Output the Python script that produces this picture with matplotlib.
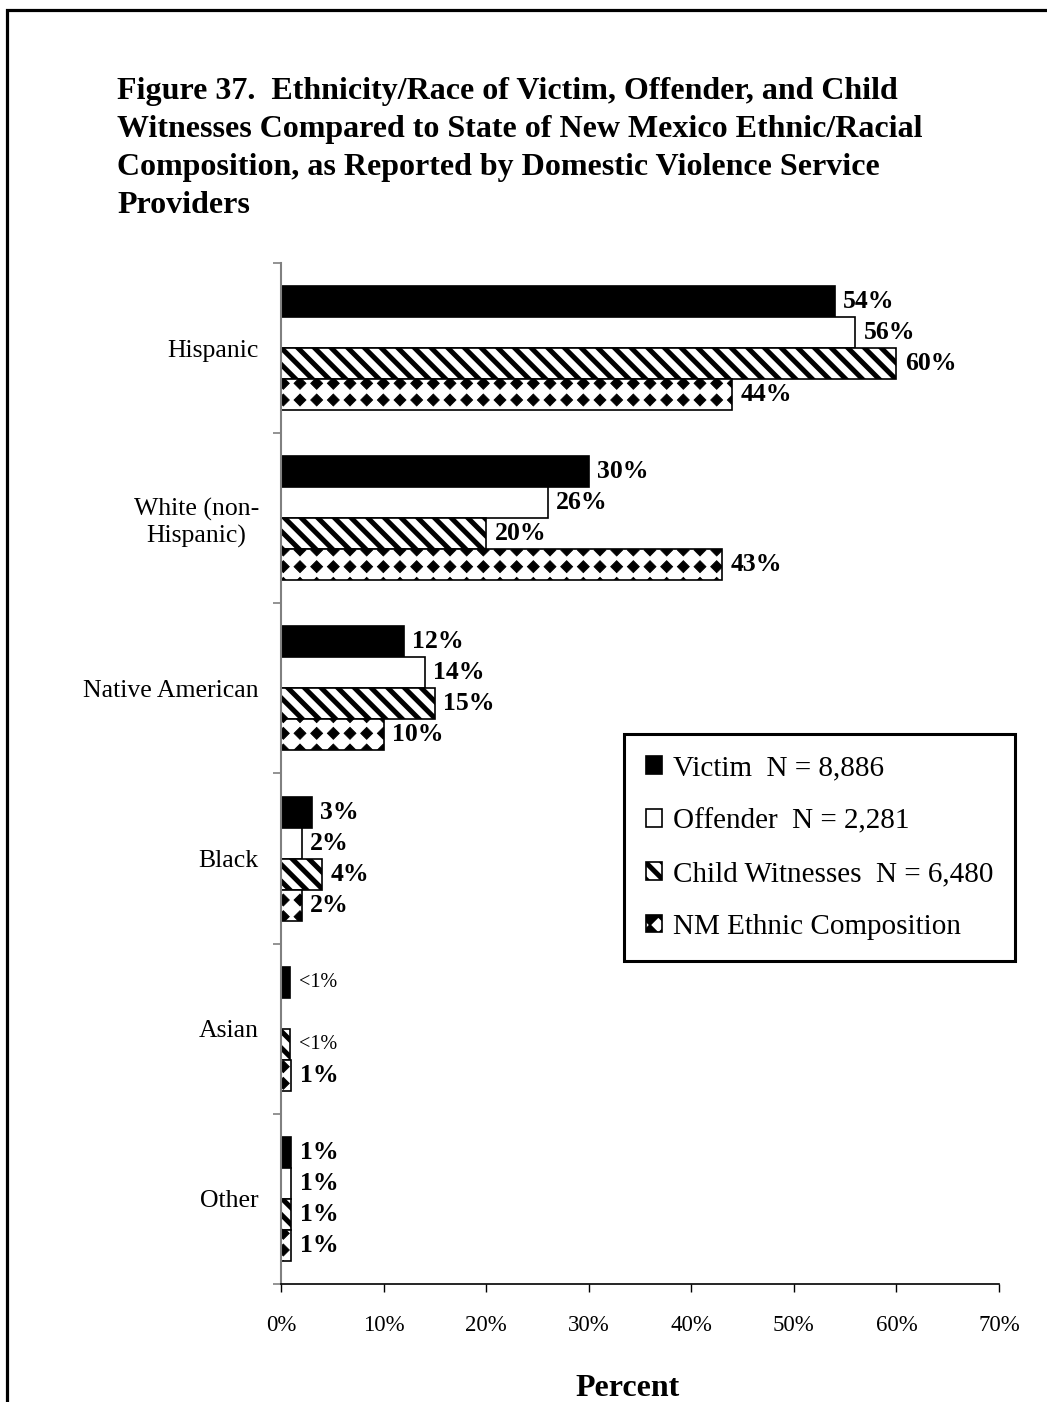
import warnings
import numpy as np
import matplotlib
matplotlib.use('Agg')
import matplotlib.pyplot as plt
import matplotlib.patches as mpatches
from matplotlib import hatch as mhatch
from matplotlib.path import Path

warnings.filterwarnings('ignore')

# data (percent)
categories = ['Hispanic', 'White (non-\nHispanic)', 'Native American', 'Black', 'Asian', 'Other']
victim = [54, 30, 12, 3, 0.9, 1]
offender = [56, 26, 14, 2, 0, 1]
child = [60, 20, 15, 4, 0.9, 1]
nm_comp = [44, 43, 10, 2, 1, 1]
series_names = ['Victim  N = 8,886', 'Offender  N = 2,281',
                'Child Witnesses  N = 6,480', 'NM Ethnic Composition']
x_ticks = [0, 10, 20, 30, 40, 50, 60, 70]
title_lines = ['Figure 37.  Ethnicity/Race of Victim, Offender, and Child',
               'Witnesses Compared to State of New Mexico Ethnic/Racial',
               'Composition, as Reported by Domestic Violence Service',
               'Providers']


class DiamondHatch(mhatch.HatchPatternBase):
    """black diamonds on a square grid, hatch letter 'd'"""
    def __init__(self, hatch, density):
        self.num_rows = hatch.count('d') * density
        self.num_vertices = 5 * (self.num_rows + 1) ** 2 if self.num_rows else 0

    def set_vertices_and_codes(self, vertices, codes):
        n = self.num_rows
        r = 0.36 / n
        shape = np.array([[0, r], [-r, 0], [0, -r], [r, 0], [0, r]])
        k = 0
        for i in range(n + 1):
            for j in range(n + 1):
                vertices[k:k + 5] = shape + [j / n, i / n]
                codes[k:k + 5] = [Path.MOVETO, Path.LINETO, Path.LINETO,
                                  Path.LINETO, Path.CLOSEPOLY]
                k += 5


mhatch._hatch_types.append(DiamondHatch)

plt.rcParams['font.family'] = ['Liberation Serif', 'DejaVu Serif']
plt.rcParams['hatch.linewidth'] = 3.6
per_artist_hatch_lw = hasattr(mpatches.Patch, 'set_hatch_linewidth')

W, H = 1047, 1402
fig = plt.figure(figsize=(W / 100, H / 100), dpi=100)
ax = fig.add_axes([281 / W, 1 - 1284 / H, 718 / W, 1021 / H])

y = np.arange(len(categories))
h = 0.182
series = [victim, offender, child, nm_comp]
styles = [dict(facecolor='black'),
          dict(facecolor='white'),
          dict(facecolor='white', hatch='\\\\'),
          dict(facecolor='white', hatch='d')]

handles = []
for k, (vals, st, name) in enumerate(zip(series, styles, series_names)):
    pos = y + (k - 1.5) * h
    bars = ax.barh(pos, vals, height=h, edgecolor='black', linewidth=1.2,
                   label=name, **st)
    if per_artist_hatch_lw:
        for b in bars:
            b.set_hatch_linewidth(0.6 if st.get('hatch') == 'd' else 3.6)
    handles.append(bars)
    for p, v in zip(pos, vals):
        if v == 0:
            continue
        if v < 1:
            txt, wt, fs = '<1%', 'normal', 14.5
        else:
            txt, wt, fs = f'{v:g}%', 'bold', 18.5
        ax.annotate(txt, (v, p), xytext=(6, 0), textcoords='offset points',
                    va='center', ha='left', fontsize=fs, fontweight=wt)

ax.set_xlim(0, 70)
ax.set_ylim(len(categories) - 0.5, -0.5)
ax.set_xticks(x_ticks)
ax.set_xticklabels([f'{t}%' for t in x_ticks], fontsize=16.5)
ax.tick_params(axis='x', direction='out', length=6, width=1, color='black', pad=16)

ax.set_yticks(y)
ax.set_yticklabels(categories, fontsize=18.5)
ax.set_yticks(np.arange(-0.5, len(categories), 1), minor=True)
ax.tick_params(axis='y', which='major', length=0, pad=16)
ax.tick_params(axis='y', which='minor', direction='out', length=6, width=1.2,
               color='#808080')
for lab in ax.get_yticklabels():
    lab.set_multialignment('center')

ax.spines['top'].set_visible(False)
ax.spines['right'].set_visible(False)
ax.spines['left'].set_color('#808080')
ax.spines['left'].set_linewidth(1.5)
ax.spines['bottom'].set_linewidth(1.2)

ax.set_xlabel('Percent', fontsize=23, fontweight='bold')
ax.xaxis.set_label_coords(0.482, -0.088)

leg = ax.legend(handles=handles, loc='upper left', bbox_to_anchor=(0.478, 0.539),
                borderaxespad=0, fancybox=False, edgecolor='black', framealpha=1,
                fontsize=21, handlelength=0.56, handleheight=0.56,
                handletextpad=0.36, labelspacing=0.92, borderpad=0.74)
leg.get_frame().set_linewidth(2.2)

# title block
for i, line in enumerate(title_lines):
    fig.text(117 / W, 1 - (99 + 38 * i) / H, line, fontsize=23,
             fontweight='bold', va='baseline', ha='left')

# page frame, open on the right and bottom
frame = mpatches.Rectangle((6.5 / W, -0.1), 2, 1.1 - 9.5 / H,
                           transform=fig.transFigure, fill=False,
                           edgecolor='black', linewidth=2.3, clip_on=False)
fig.patches.append(frame)

fig.savefig('out.png', dpi=100)
